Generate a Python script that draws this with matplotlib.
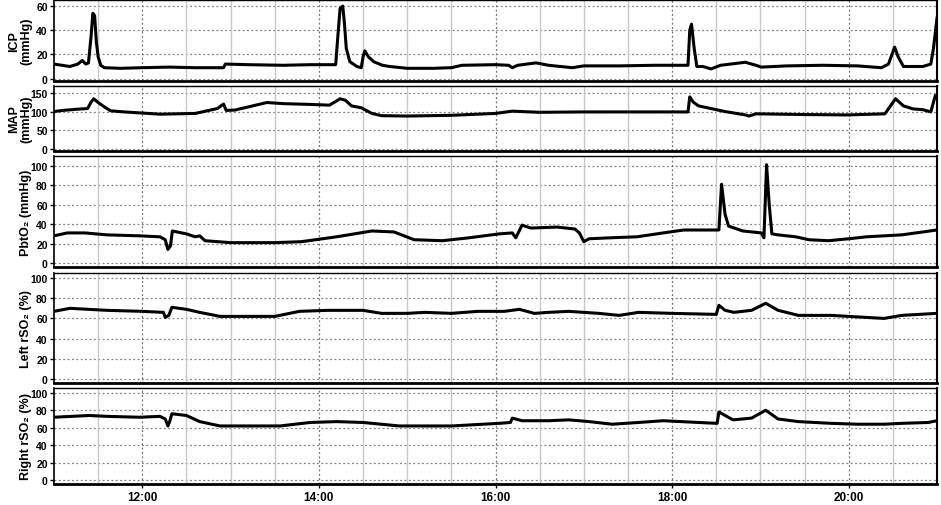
import numpy as np
import matplotlib
matplotlib.use('Agg')
import matplotlib.pyplot as plt
from matplotlib.ticker import MultipleLocator, FixedLocator, FuncFormatter

plt.rcParams['font.family'] = ['Liberation Sans', 'DejaVu Sans']

# -- data (time in decimal hours)

icp_t = [11.00, 11.09, 11.18, 11.27, 11.32, 11.36, 11.39, 11.42, 11.44, 11.46, 11.48, 11.50, 11.53,
         11.57, 11.75, 12.00, 12.30, 12.60, 12.92, 12.94, 13.20, 13.60, 13.90, 14.19, 14.22, 14.24,
         14.27, 14.29, 14.31, 14.35, 14.43, 14.48, 14.50, 14.52, 14.56, 14.62, 14.72, 14.80, 15.00,
         15.30, 15.50, 15.62, 16.00, 16.15, 16.19, 16.25, 16.46, 16.60, 16.87, 17.00, 17.40, 17.80,
         18.18, 18.20, 18.22, 18.25, 18.28, 18.35, 18.44, 18.55, 18.83, 18.95, 19.01, 19.30, 19.70,
         20.10, 20.37, 20.45, 20.52, 20.56, 20.62, 20.84, 20.93, 20.96, 21.00]
icp = [12, 11, 10, 12, 15, 12, 13, 35, 54, 52, 30, 18, 11,
       9, 8.5, 9, 9.5, 9, 9, 12, 11.5, 11, 11.5, 11.5, 40, 58,
       60, 45, 25, 14, 10, 9, 18, 23, 18, 14, 11, 10, 8.5,
       8.5, 9, 11, 11.5, 11, 9, 11, 13, 11, 9, 10.5, 10.5, 11,
       11, 40, 45, 25, 10, 10, 8, 11, 13.5, 11, 9.5, 10.5, 11,
       10.5, 9, 12, 26, 18, 10, 10, 12, 25, 50]

map_t = [11.00, 11.10, 11.25, 11.38, 11.42, 11.45, 11.50, 11.56, 11.64, 11.80, 12.00, 12.20, 12.60,
         12.85, 12.92, 12.95, 13.05, 13.41, 13.60, 13.90, 14.12, 14.24, 14.30, 14.37, 14.48, 14.60,
         14.71, 15.00, 15.50, 16.00, 16.19, 16.50, 17.00, 17.50, 18.18, 18.20, 18.24, 18.30, 18.60,
         18.83, 18.87, 18.95, 19.50, 19.99, 20.41, 20.53, 20.62, 20.73, 20.84, 20.93, 20.98]
map_ = [100, 103, 106, 108, 125, 134, 124, 114, 102, 99, 96, 93, 95,
        108, 120, 103, 104, 124, 121, 119, 117, 134, 130, 115, 110, 95,
        89, 88, 90, 95, 101, 98, 99, 99, 99, 139, 125, 115, 100,
        91, 88, 94, 92, 91, 94, 134, 115, 107, 105, 99, 142]

pbto2_t = [11.00, 11.15, 11.35, 11.60, 11.97, 12.20, 12.26, 12.29, 12.32, 12.34, 12.50, 12.60, 12.65,
           12.71, 13.00, 13.50, 13.80, 14.20, 14.60, 14.85, 15.08, 15.40, 15.70, 16.04, 16.19, 16.23,
           16.30, 16.40, 16.70, 16.90, 16.95, 17.00, 17.06, 17.30, 17.60, 17.90, 18.13, 18.40, 18.53,
           18.56, 18.60, 18.64, 18.80, 19.01, 19.04, 19.07, 19.10, 19.13, 19.20, 19.40, 19.55, 19.77,
           20.00, 20.20, 20.60, 21.00]
pbto2 = [28, 31, 31, 29, 28, 27, 24, 14, 18, 33, 30, 27, 28,
         23, 21, 21, 22, 27, 33, 32, 24, 23, 26, 30, 31, 26,
         39, 36, 37, 35, 31, 22, 25, 26, 27, 31, 34, 34, 34,
         81, 50, 38, 33, 31, 26, 101, 60, 30, 29, 27, 24, 23,
         25, 27, 29, 34]

lrso2_t = [11.00, 11.18, 11.60, 12.00, 12.24, 12.26, 12.30, 12.335, 12.50, 12.65, 12.88, 13.50, 13.78,
           14.10, 14.50, 14.71, 15.00, 15.20, 15.50, 15.80, 16.10, 16.27, 16.44, 16.60, 16.83, 17.17,
           17.40, 17.62, 18.00, 18.50, 18.53, 18.60, 18.70, 18.90, 19.06, 19.20, 19.43, 19.80, 20.20,
           20.40, 20.60, 21.00]
lrso2 = [67, 70, 68, 67, 66, 61, 63, 71, 69, 66, 62, 62, 67,
         68, 68, 65, 65, 66, 65, 67, 67, 69, 65, 66, 67, 65,
         63, 66, 65, 64, 73, 68, 66, 68, 75, 68, 63, 63, 61,
         60, 63, 65]

rrso2_t = [11.00, 11.40, 11.60, 11.97, 12.20, 12.26, 12.29, 12.31, 12.335, 12.50, 12.65, 12.88, 13.56,
           13.90, 14.20, 14.50, 14.91, 15.50, 16.04, 16.17, 16.19, 16.30, 16.60, 16.83, 17.06, 17.32,
           17.62, 17.90, 18.30, 18.51, 18.53, 18.69, 18.90, 19.06, 19.20, 19.43, 19.80, 20.10, 20.40,
           20.60, 20.90, 21.00]
rrso2 = [72, 74, 73, 72, 73, 70, 62, 67, 76, 74, 67, 62, 62,
         66, 67, 66, 62, 62, 65, 66, 71, 68, 68, 69, 67, 64,
         66, 68, 66, 65, 78, 69, 71, 80, 70, 67, 65, 64, 64,
         65, 66, 68]

labels = ['ICP\n(mmHg)', 'MAP\n(mmHg)', 'PbtO\u2082 (mmHg)', 'Left rSO\u2082 (%)', 'Right rSO\u2082 (%)']
ylims = [(-2, 65), (-5, 168), (-4, 110), (-4, 105), (-4.5, 105.5)]
ysteps = [20, 50, 20, 20, 20]
series = [(icp_t, icp), (map_t, map_), (pbto2_t, pbto2), (lrso2_t, lrso2), (rrso2_t, rrso2)]

# panel boxes in pixels (top, bottom) of a 941x506 image
W, H = 941, 506
boxes = [(1, 82), (87, 152), (157, 268), (274, 384), (389, 485)]
x0, x1 = 54, 937
# right edge of the (rotated) y label, in pixels
label_right = 32


def hhmm(v, pos):
    h = int(round(v * 60)) // 60
    m = int(round(v * 60)) % 60
    return '%d:%02d' % (h, m)


fig = plt.figure(figsize=(W / 100, H / 100), dpi=100)

axes = []
for i, (top, bot) in enumerate(boxes):
    ax = fig.add_axes([x0 / W, 1 - bot / H, (x1 - x0) / W, (bot - top) / H])
    axes.append(ax)
    t, v = series[i]
    ax.plot(t, v, color='black', lw=2.2, solid_joinstyle='round', zorder=5)

    ax.set_xlim(11, 21)
    ax.set_ylim(*ylims[i])
    ax.yaxis.set_major_locator(MultipleLocator(ysteps[i]))

    # grid: dotted horizontals, dotted every 2 h, solid light grey every 30 min
    for y in ax.get_yticks():
        if ylims[i][0] <= y <= ylims[i][1]:
            ax.axhline(y, color='#808080', lw=0.9, ls=(0, (1.5, 2)), zorder=1)
    for tt in np.arange(11.5, 21, 0.5):
        if abs(tt % 2) < 1e-6:
            ax.axvline(tt, color='#707070', lw=0.9, ls=(0, (1.5, 2)), zorder=1)
        else:
            ax.axvline(tt, color='#c8c8c8', lw=1.0, zorder=1)

    ax.tick_params(axis='y', direction='out', length=3, width=1, labelsize=7.5, pad=1.5)
    for lab in ax.get_yticklabels():
        lab.set_fontweight('bold')

    ax.spines['bottom'].set_linewidth(2.0)
    ax.spines['top'].set_linewidth(1.0)
    ax.spines['left'].set_linewidth(1.2)
    ax.spines['right'].set_linewidth(1.5)

    ax.set_ylabel(labels[i], fontsize=9, fontweight='bold', linespacing=1.0)
    ax.yaxis.set_label_coords((label_right - x0) / (x1 - x0), 0.5)

    if i < len(boxes) - 1:
        ax.set_xticks([])
    else:
        ax.xaxis.set_major_locator(FixedLocator([12, 14, 16, 18, 20]))
        ax.xaxis.set_major_formatter(FuncFormatter(hhmm))
        ax.tick_params(axis='x', direction='out', length=3, width=1, labelsize=8.5, pad=2)
        for lab in ax.get_xticklabels():
            lab.set_fontweight('bold')

fig.savefig('out.png', dpi=100, facecolor='white')
